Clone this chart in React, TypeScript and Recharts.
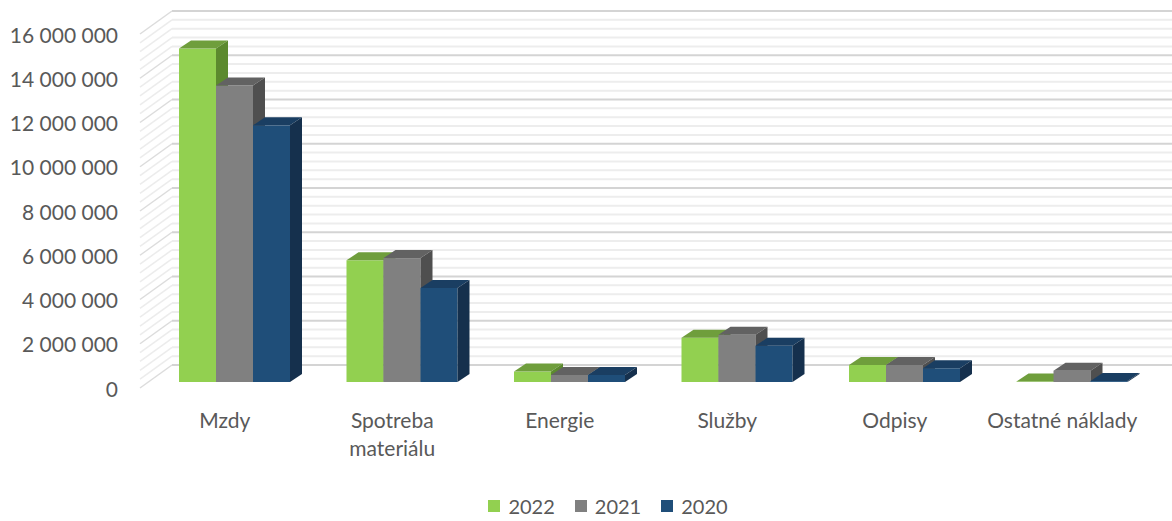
import { BarChart, Bar, XAxis, YAxis, CartesianGrid, Legend } from "recharts";

const categories = ["Mzdy", "Spotreba materiálu", "Energie", "Služby", "Odpisy", "Ostatné náklady"];
const seriesNames = ["2022", "2021", "2020"];
const values2022 = [15070000, 5500000, 470000, 2000000, 770000, 20000];
const values2021 = [13400000, 5600000, 320000, 2130000, 770000, 510000];
const values2020 = [11600000, 4250000, 320000, 1640000, 620000, 40000];
const yTicks = Array.from({ length: 41 }, (_, i) => i * 400000);

const data = categories.map((name, i) => ({
  name,
  "2022": values2022[i],
  "2021": values2021[i],
  "2020": values2020[i],
}));

const colors = {
  "2022": { front: "#92d050", top: "#6f9e3c", side: "#5c8a2e" },
  "2021": { front: "#808080", top: "#626262", side: "#4f4f4f" },
  "2020": { front: "#1f4e79", top: "#1a3e62", side: "#15304d" },
};

const FONT = "Lato, 'Open Sans', sans-serif";
const TEXT = "#595959";
const DEPTH_X = 12;
const DEPTH_Y = 8;
// walls of the 3d box relative to the bar plane
const WALL_FRONT_X = 140;
const WALL_BACK_X = 172;
const FRONT_DY = 6;
const BACK_DY = 17;

const fmt = (v: number) => String(v).replace(/\B(?=(\d{3})+(?!\d))/g, " ");

// greedy wrap by characters, like excel wrapping long category names
const wrap = (s: string, max = 16) => {
  const lines: string[] = [];
  let cur = "";
  s.split(" ").forEach((w) => {
    const next = cur ? cur + " " + w : w;
    if (next.length > max && cur) {
      lines.push(cur);
      cur = w;
    } else cur = next;
  });
  if (cur) lines.push(cur);
  return lines;
};

const makeShape = (c: { front: string; top: string; side: string }) => (props: any) => {
  const { x, y, width, height } = props;
  if (width == null || height == null) return <g />;
  const r = x + width;
  const b = y + height;
  return (
    <g>
      <rect x={x} y={y} width={width} height={height} fill={c.front} />
      <polygon
        points={`${x},${y} ${x + DEPTH_X},${y - DEPTH_Y} ${r + DEPTH_X},${y - DEPTH_Y} ${r},${y}`}
        fill={c.top}
      />
      <polygon
        points={`${r},${y} ${r + DEPTH_X},${y - DEPTH_Y} ${r + DEPTH_X},${b - DEPTH_Y} ${r},${b}`}
        fill={c.side}
      />
    </g>
  );
};

const gridLine = (props: any) => {
  const { y1, index } = props;
  const major = index % 5 === 0;
  const stroke = major ? "#d4d4d4" : "#ededed";
  return (
    <g key={`g-${index}`}>
      <line x1={WALL_BACK_X} y1={y1 - BACK_DY} x2={1172} y2={y1 - BACK_DY} stroke={stroke} strokeWidth={2} />
      <line
        x1={WALL_FRONT_X}
        y1={y1 + FRONT_DY}
        x2={WALL_BACK_X}
        y2={y1 - BACK_DY}
        stroke={major ? "#dcdcdc" : "#ececec"}
        strokeWidth={1.5}
      />
    </g>
  );
};

const YTick = (props: any) => {
  const { x, y, payload } = props;
  if (payload.value % 2000000 !== 0) return <g />;
  return (
    <text x={x} y={y + FRONT_DY} textAnchor="end" dominantBaseline="central" fill={TEXT} fontSize={21} fontFamily={FONT}>
      {fmt(payload.value)}
    </text>
  );
};

const XTick = (props: any) => {
  const { x, y, payload } = props;
  const lines = wrap(String(payload.value));
  return (
    <text x={x - 10} y={y + 38} textAnchor="middle" fill={TEXT} fontSize={21} fontFamily={FONT}>
      {lines.map((l, i) => (
        <tspan key={i} x={x - 10} dy={i === 0 ? 0 : 28}>
          {l}
        </tspan>
      ))}
    </text>
  );
};

const LegendContent = () => (
  <div style={{ display: "flex", justifyContent: "center", paddingLeft: 80, height: 30, alignItems: "center", fontFamily: FONT, fontSize: 20, color: TEXT }}>
    {seriesNames.map((s) => (
      <div key={s} style={{ display: "flex", alignItems: "center", marginRight: 20 }}>
        <span style={{ width: 12, height: 12, background: colors[s as keyof typeof colors].front, marginRight: 8 }} />
        <span>{s}</span>
      </div>
    ))}
  </div>
);

export default function App() {
  return (
    <div style={{ position: "absolute", left: 0, top: 0, background: "#fff" }}>
      <BarChart
        width={1172}
        height={521}
        data={data}
        margin={{ top: 28, right: 16, left: 0, bottom: 0 }}
        barGap={0}
        barSize={37}
      >
        <CartesianGrid vertical={false} horizontal={gridLine} />
        <XAxis dataKey="name" axisLine={false} tickLine={false} height={109} tick={<XTick />} interval={0} />
        <YAxis
          width={151}
          domain={[0, 16000000]}
          ticks={yTicks}
          interval={0}
          axisLine={false}
          tickLine={false}
          tickMargin={27}
          tick={<YTick />}
        />
        <Legend verticalAlign="bottom" content={<LegendContent />} />
        {seriesNames.map((s) => (
          <Bar
            key={s}
            dataKey={s}
            fill={colors[s as keyof typeof colors].front}
            shape={makeShape(colors[s as keyof typeof colors])}
            isAnimationActive={false}
          />
        ))}
      </BarChart>
    </div>
  );
}
